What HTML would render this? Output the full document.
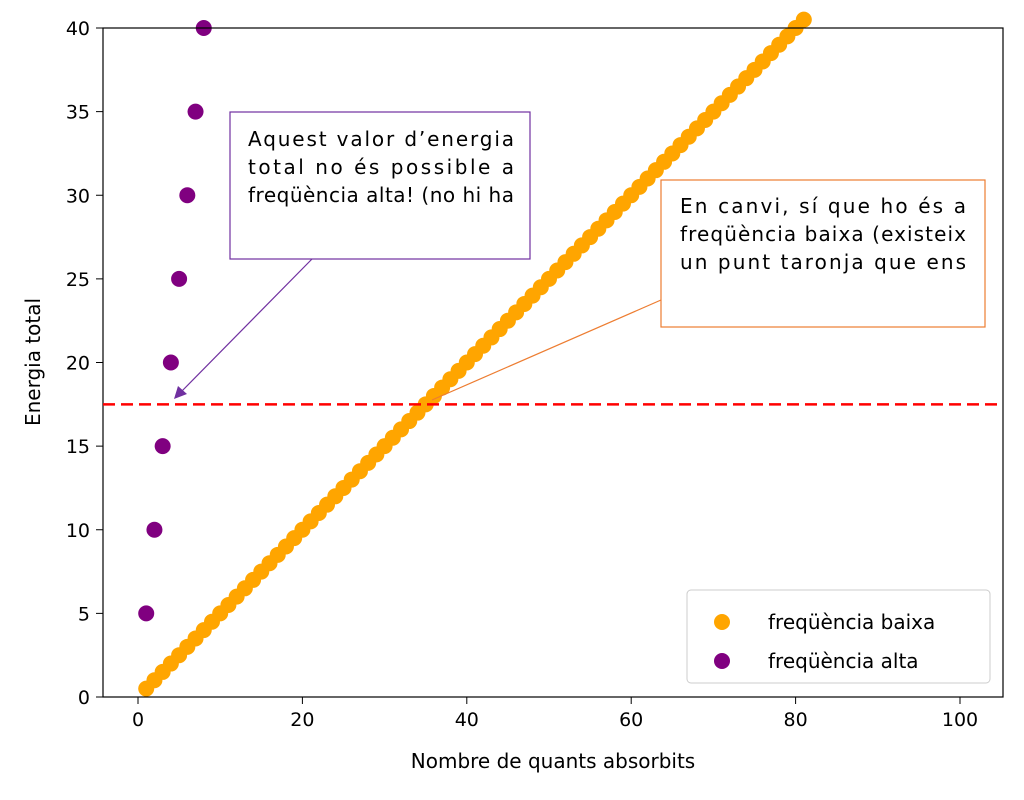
<!DOCTYPE html>
<html><head><meta charset="utf-8"><style>
body{margin:0;background:#fff;}
svg text{font-family:"DejaVu Sans","Liberation Sans",sans-serif;}
</style></head><body>
<svg width="1024" height="795" xmlns="http://www.w3.org/2000/svg">
<g id="ticks"></g>
<g id="marks"></g>
<rect x="103" y="28" width="900" height="669" fill="none" stroke="#000" stroke-width="1.2"/>
<line id="hline" x1="103" x2="1003" stroke="#ff0000" stroke-width="2.5" stroke-dasharray="12,6"/>
<text x="553" y="768" font-size="20" text-anchor="middle">Nombre de quants absorbits</text>
<text transform="translate(40,362) rotate(-90)" font-size="20" text-anchor="middle">Energia total</text>
<g>
<rect x="687" y="590" width="303" height="93" rx="4" fill="#fff" stroke="#ccc"/>
<circle cx="722" cy="622" r="8" fill="#FFA500"/>
<text x="768" y="629" font-size="20">freqüència baixa</text>
<circle cx="722" cy="661" r="8" fill="#800080"/>
<text x="768" y="668" font-size="20">freqüència alta</text>
</g>
<line x1="312" y1="259" x2="180" y2="393" stroke="#7030A0" stroke-width="1.2"/>
<polygon points="174,399 178,386 187,394" fill="#7030A0"/>
<line x1="661" y1="300" x2="432" y2="400" stroke="#ED7D31" stroke-width="1.2"/>
<rect x="230" y="112" width="300" height="147" fill="#fff" stroke="#7030A0" stroke-width="1.2"/>
<g font-family="Liberation Serif,serif" font-size="20" style="font-family:'Liberation Serif',serif">
<text x="248" y="146" textLength="266" lengthAdjust="spacing">Aquest valor d’energia</text>
<text x="248" y="174" textLength="266" lengthAdjust="spacing">total no és possible a</text>
<text x="248" y="202" textLength="266" lengthAdjust="spacing">freqüència alta! (no hi ha</text>
</g>
<rect x="661" y="180" width="324" height="147" fill="#fff" stroke="#ED7D31" stroke-width="1.2"/>
<g style="font-family:'Liberation Serif',serif" font-size="20">
<text x="680" y="213" textLength="286" lengthAdjust="spacing">En canvi, sí que ho és a</text>
<text x="680" y="241" textLength="286" lengthAdjust="spacing">freqüència baixa (existeix</text>
<text x="680" y="269" textLength="286" lengthAdjust="spacing">un punt taronja que ens</text>
</g>
</svg>
<script>
const xTicks=[0,20,40,60,80,100];
const yTicks=[0,5,10,15,20,25,30,35,40];
const lowN=[];for(let i=1;i<=100;i++)lowN.push(i);
const lowE=lowN.map(n=>n*0.5);
const highN=[1,2,3,4,5,6,7,8];
const highE=[5,10,15,20,25,30,35,40];
const threshold=17.5;
const X=v=>138+v*8.22, Y=v=>697-v*16.725;
const NS="http://www.w3.org/2000/svg";
const tk=document.getElementById('ticks'), mk=document.getElementById('marks');
function mkEl(t,a,p){const e=document.createElementNS(NS,t);for(const k in a)e.setAttribute(k,a[k]);p.appendChild(e);return e;}
xTicks.forEach(v=>{
 const l=mkEl('line',{x1:X(v),x2:X(v),y1:697,y2:704,stroke:'#000'},tk);
 
 
 const t=mkEl('text',{x:X(v),y:726,'font-size':19,'text-anchor':'middle'},tk);t.textContent=v;
 
 
});
yTicks.forEach(v=>{
 const l=mkEl('line',{x1:96,x2:103,y1:Y(v),y2:Y(v),stroke:'#000'},tk);
 
 
 const t=mkEl('text',{x:90,y:Y(v)+7,'font-size':19,'text-anchor':'end'},tk);t.textContent=v;
 
 
});
lowN.forEach((n,i)=>{if(lowE[i]>40.5)return;
 const c=mkEl('circle',{cx:X(n),cy:Y(lowE[i]),r:8,fill:'#FFA500'},mk);
 
 
});
highN.forEach((n,i)=>{if(highE[i]>40.5)return;
 const c=mkEl('circle',{cx:X(n),cy:Y(highE[i]),r:8,fill:'#800080'},mk);
 
 
});
const h=document.getElementById('hline');h.setAttribute('y1',Y(threshold));h.setAttribute('y2',Y(threshold));
</script>
</body></html>
